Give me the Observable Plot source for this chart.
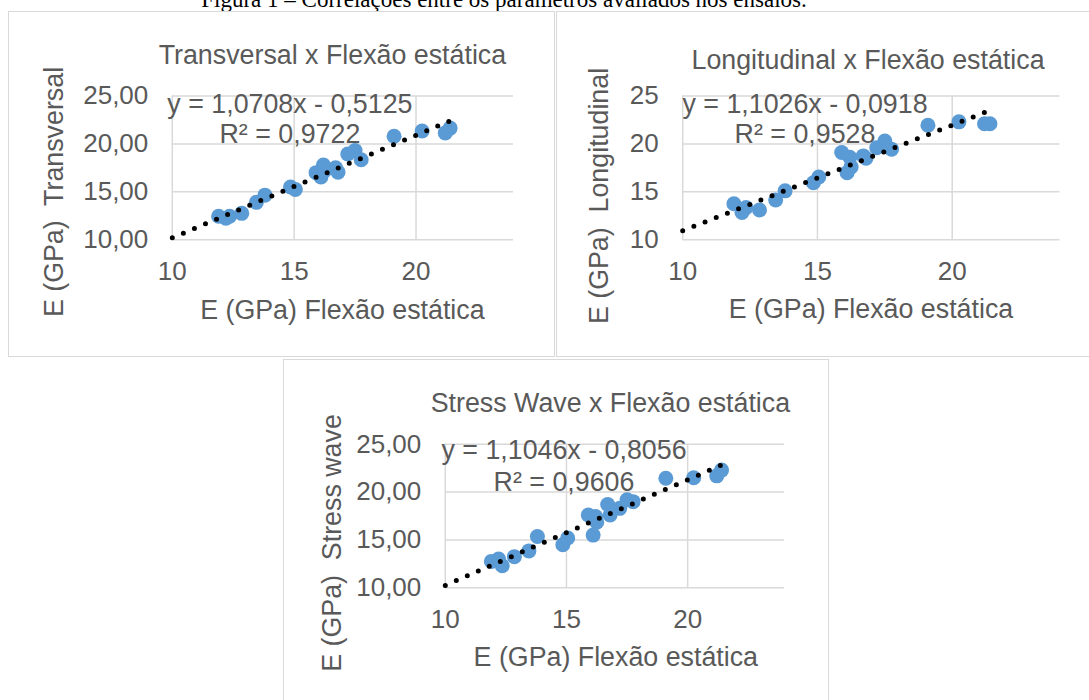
<!DOCTYPE html>
<html><head><meta charset="utf-8">
<script src="https://cdn.jsdelivr.net/npm/d3@7"></script>
<script src="https://cdn.jsdelivr.net/npm/@observablehq/plot@0.6"></script>
<style>
html,body{margin:0;padding:0;background:#fff;}
#root{position:relative;width:1089px;height:700px;overflow:hidden;background:#fff;}
.caption{position:absolute;left:0;width:1008px;text-align:center;font-family:"Liberation Serif","Times New Roman",serif;font-size:23px;line-height:23px;top:-11.7px;color:#000;white-space:nowrap;}
.panel{position:absolute;}
.panel svg{position:absolute;left:0;top:0;}
.panel svg text{white-space:pre;}
.border{position:absolute;left:0;top:0;right:0;bottom:0;border:1.5px solid #d9d9d9;box-sizing:border-box;pointer-events:none;}
</style></head><body><div id="root"></div>
<script>
// ---- data ----
const flexao       = [11.9, 12.2, 12.35, 12.85, 13.45, 13.8, 14.85, 15.05, 15.9, 16.1, 16.2, 16.25, 16.7, 16.8, 17.2, 17.5, 17.75, 19.1, 20.25, 21.2, 21.4];
const transversal  = [12.45, 12.25, 12.45, 12.75, 13.9, 14.65, 15.5, 15.25, 17.0, 16.55, 17.8, 17.2, 17.5, 17.05, 18.95, 19.3, 18.35, 20.8, 21.35, 21.15, 21.65];
const longitudinal = [13.75, 12.85, 13.35, 13.1, 14.15, 15.1, 15.95, 16.55, 19.1, 17.0, 18.6, 17.6, 18.75, 18.5, 19.6, 20.3, 19.45, 21.95, 22.3, 22.1, 22.1];
const stressWave   = [12.75, 13.0, 12.3, 13.25, 13.85, 15.35, 14.5, 15.2, 17.6, 15.5, 17.45, 16.85, 18.7, 17.6, 18.3, 19.2, 19.0, 21.45, 21.5, 21.7, 22.3];
const chartTitles = ["Transversal x Flexão estática", "Longitudinal x Flexão estática", "Stress Wave x Flexão estática"];
const yTitles = ["E (GPa)  Transversal", "E (GPa)  Longitudinal", "E (GPa)  Stress wave"];
const xTitle = "E (GPa) Flexão estática";
const slopes = [1.0708, 1.1026, 1.1046];
const intercepts = [-0.5125, -0.0918, -0.8056];
const r2 = [0.9722, 0.9528, 0.9606];
const xTicks = [10, 15, 20];
const yTicks = [10, 15, 20, 25];
const yTickDecimals = [2, 0, 2];
const xDomain = [10, 24];
const yDomain = [10, 25];
const caption = "Figura 1 – Correlações entre os parâmetros avaliados nos ensaios.";

// ---- layout ----
const series = [transversal, longitudinal, stressWave];
const FONT = '"Liberation Sans", Arial, sans-serif';
const GRID = "#d9d9d9";
const TXT = "#595959";
const geos = [
  {ox: 7.5, oy: 10.5, w: 547, h: 346, L: 171.3, R: 512.5, T: 95, B: 238.7,
   title: [331.4, 63.3], eq: [288.9, 141.7, 30], xt: [341.4, 317.7], yt: [62.4, 191]},
  {ox: 555.5, oy: 10.5, w: 545, h: 346, L: 681.7, R: 1059, T: 95, B: 238.7,
   title: [867, 68.3], eq: [804, 141.7, 30], xt: [870, 316.7], yt: [607, 195]},
  {ox: 282.5, oy: 358.5, w: 546, h: 350, L: 444.3, R: 783.6, T: 443.3, B: 586.7,
   title: [609.4, 411], eq: [563, 490, 31.7], xt: [614.8, 665], yt: [340.4, 542]}
];

const root = document.getElementById("root");
const cap = document.createElement("div");
cap.className = "caption";
cap.textContent = caption;
root.appendChild(cap);

const c4 = v => v.toFixed(4).replace(".", ",");
const FS = 26;     // tick labels
const FT = 26.8;   // titles, equation, axis titles

geos.forEach((g, i) => {
  const fmt = v => v.toFixed(yTickDecimals[i]).replace(".", ",");
  const data = flexao.map((x, j) => ({x, y: series[i][j]}));
  const xmax = d3.max(flexao);
  const trend = [xDomain[0], xmax].map(x => ({x, y: slopes[i] * x + intercepts[i]}));
  const eq = `y = ${c4(slopes[i])}x ${intercepts[i] < 0 ? "-" : "+"} ${c4(Math.abs(intercepts[i]))}\nR² = ${c4(r2[i])}`;
  const txt = (s, x, y, extra = {}) => Plot.text([s], {
    text: d => d, frameAnchor: "top-left", dx: x - g.L, dy: y - g.T,
    textAnchor: "middle", lineAnchor: "bottom", fontSize: FT, fill: TXT, ...extra
  });
  const plot = Plot.plot({
    width: g.w, height: g.h,
    marginLeft: g.L - g.ox, marginRight: g.ox + g.w - g.R,
    marginTop: g.T - g.oy, marginBottom: g.oy + g.h - g.B,
    style: {background: "transparent", color: TXT, fontFamily: FONT, fontSize: FS + "px", overflow: "visible"},
    x: {domain: xDomain, ticks: xTicks, tickSize: 0, tickPadding: 22, label: null, tickFormat: d => String(d)},
    y: {domain: yDomain, ticks: yTicks, tickSize: 0, tickPadding: 24, label: null, tickFormat: fmt},
    marks: [
      Plot.ruleY(yTicks, {stroke: GRID, strokeWidth: 1.5}),
      Plot.ruleX(xTicks, {stroke: GRID, strokeWidth: 1.5}),
      Plot.dot(data, {x: "x", y: "y", r: 7.5, fill: "#5B9BD5", stroke: "none"}),
      Plot.line(trend, {x: "x", y: "y", stroke: "#000", strokeWidth: 5, strokeDasharray: "0 12", strokeLinecap: "round"}),
      txt(chartTitles[i], g.title[0], g.title[1]),
      txt(eq, g.eq[0], g.eq[1], {lineHeight: g.eq[2] / FT}),
      txt(xTitle, g.xt[0], g.xt[1]),
      txt(yTitles[i], g.yt[0], g.yt[1], {rotate: -90})
    ]
  });
  const div = document.createElement("div");
  div.className = "panel";
  Object.assign(div.style, {left: g.ox + "px", top: g.oy + "px", width: g.w + "px", height: g.h + "px"});
  div.appendChild(plot);
  const b = document.createElement("div");
  b.className = "border";
  div.appendChild(b);
  root.appendChild(div);
});
</script></body></html>
